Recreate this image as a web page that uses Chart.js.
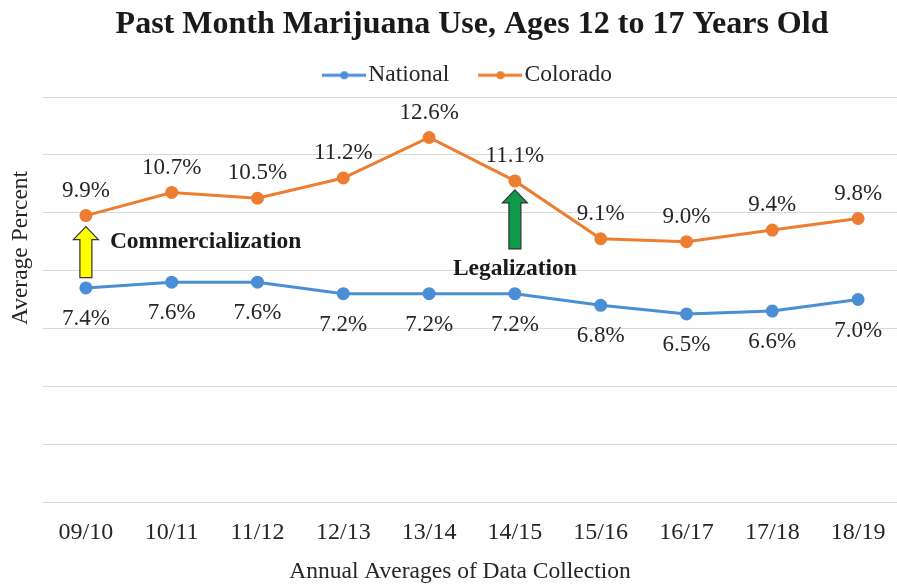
<!DOCTYPE html>
<html>
<head>
<meta charset="utf-8">
<script src="https://cdn.jsdelivr.net/npm/chart.js@4"></script>
<style>
  html, body { margin: 0; padding: 0; background: #fff; overflow: hidden; }
  #wrap { width: 901px; height: 588px; }
</style>
</head>
<body>
<div id="wrap"><canvas id="useChart"></canvas></div>
<script>
  const years = ["09/10", "10/11", "11/12", "12/13", "13/14", "14/15", "15/16", "16/17", "17/18", "18/19"];
  const national = [7.4, 7.6, 7.6, 7.2, 7.2, 7.2, 6.8, 6.5, 6.6, 7.0];
  const colorado = [9.9, 10.7, 10.5, 11.2, 12.6, 11.1, 9.1, 9.0, 9.4, 9.8];

  const serif = "'Liberation Serif', 'Times New Roman', serif";
  const blue = "#4a8fd6";
  const orange = "#ed7d31";
  const textColor = "#262626";

  // line+dot icon for the legend; wider than its box so it runs up to the text
  const legendIcon = color => {
    const c = document.createElement("canvas");
    c.width = 44; c.height = 12;
    const g = c.getContext("2d");
    g.strokeStyle = color; g.lineWidth = 3;
    g.beginPath(); g.moveTo(0, 6); g.lineTo(44, 6); g.stroke();
    g.fillStyle = color;
    g.beginPath(); g.arc(22, 6, 4, 0, Math.PI * 2); g.fill();
    return c;
  };

  const drawArrow = (ctx, cx, top, bottom, fill) => {
    const headH = 13, headW = 12.5, shaftW = 6;
    ctx.beginPath();
    ctx.moveTo(cx, top);
    ctx.lineTo(cx + headW, top + headH);
    ctx.lineTo(cx + shaftW, top + headH);
    ctx.lineTo(cx + shaftW, bottom);
    ctx.lineTo(cx - shaftW, bottom);
    ctx.lineTo(cx - shaftW, top + headH);
    ctx.lineTo(cx - headW, top + headH);
    ctx.closePath();
    ctx.fillStyle = fill;
    ctx.fill();
    ctx.strokeStyle = "#333";
    ctx.lineWidth = 1.2;
    ctx.stroke();
  };

  const extras = {
    id: "extras",
    afterDatasetsDraw(chart) {
      const ctx = chart.ctx;
      ctx.save();
      ctx.font = "23px " + serif;
      ctx.fillStyle = textColor;
      ctx.textAlign = "center";
      ctx.textBaseline = "middle";
      // value labels: Colorado above, National below
      chart.data.datasets.forEach((ds, i) => {
        const meta = chart.getDatasetMeta(i);
        const off = i === 1 ? -25 : 31;
        meta.data.forEach((pt, j) => {
          ctx.fillText(ds.data[j].toFixed(1) + "%", pt.x, pt.y + off);
        });
      });

      // arrows and notes
      const co = chart.getDatasetMeta(1).data;
      const p0 = co[0], p5 = co[5];
      drawArrow(ctx, p0.x, p0.y + 11, p0.y + 62, "#ffff00");
      drawArrow(ctx, p5.x, p5.y + 9, p5.y + 68, "#0c9a4a");
      ctx.font = "bold 23.5px " + serif;
      ctx.fillStyle = "#1a1a1a";
      ctx.textAlign = "left";
      ctx.fillText("Commercialization", p0.x + 24, p0.y + 26);
      ctx.textAlign = "center";
      ctx.fillText("Legalization", p5.x, p5.y + 88);

      // axis titles
      ctx.font = "23.5px " + serif;
      ctx.fillStyle = textColor;
      ctx.fillText("Annual Averages of Data Collection", 460, 572);
      ctx.translate(21, 248);
      ctx.rotate(-Math.PI / 2);
      ctx.fillText("Average Percent", 0, 0);
      ctx.restore();
    }
  };

  const ctx = document.getElementById("useChart").getContext("2d");
  const chart = new Chart(ctx, {
    type: "line",
    data: {
      labels: years,
      datasets: [
        {
          label: "National",
          data: national,
          borderColor: blue,
          backgroundColor: blue,
          borderWidth: 3,
          pointRadius: 5,
          pointHoverRadius: 5,
          fill: false
        },
        {
          label: "Colorado",
          data: colorado,
          borderColor: orange,
          backgroundColor: orange,
          borderWidth: 3,
          pointRadius: 5,
          pointHoverRadius: 5,
          fill: false
        }
      ]
    },
    options: {
      responsive: true,
      maintainAspectRatio: false,
      animation: false,
      layout: { autoPadding: false, padding: { left: 43, right: 0, top: 0, bottom: 0 } },
      plugins: {
        title: {
          display: true,
          text: "Past Month Marijuana Use, Ages 12 to 17 Years Old",
          color: "#1a1a1a",
          font: { family: serif, size: 32, weight: "bold", lineHeight: 1.1 },
          padding: { top: 3, bottom: -18 }
        },
        legend: {
          position: "top",
          labels: {
            usePointStyle: true,
            pointStyleWidth: 24.5,
            padding: 39,
            color: textColor,
            font: { family: serif, size: 23.5 },
            generateLabels: c => c.data.datasets.map((ds, i) => ({
              text: ds.label,
              pointStyle: legendIcon(ds.borderColor),
              fillStyle: ds.borderColor,
              strokeStyle: ds.borderColor,
              lineWidth: 0,
              hidden: false,
              datasetIndex: i,
              fontColor: textColor
            }))
          }
        },
        tooltip: { enabled: false }
      },
      scales: {
        x: {
          offset: true,
          grid: { display: false },
          border: { display: false },
          ticks: { color: textColor, font: { family: serif, size: 24 }, padding: 8, maxRotation: 0 },
          afterFit: s => { s.height = 86; s.paddingLeft = 0; s.paddingRight = 0; }
        },
        y: {
          min: 0,
          max: 14,
          ticks: { stepSize: 2, display: false },
          grid: { color: "#d9d9d9", lineWidth: 1, drawTicks: false },
          border: { display: false },
          afterFit: s => { s.width = 0; s.paddingTop = 97; s.paddingBottom = 0; }
        }
      }
    },
    plugins: [extras]
  });
</script>
</body>
</html>
